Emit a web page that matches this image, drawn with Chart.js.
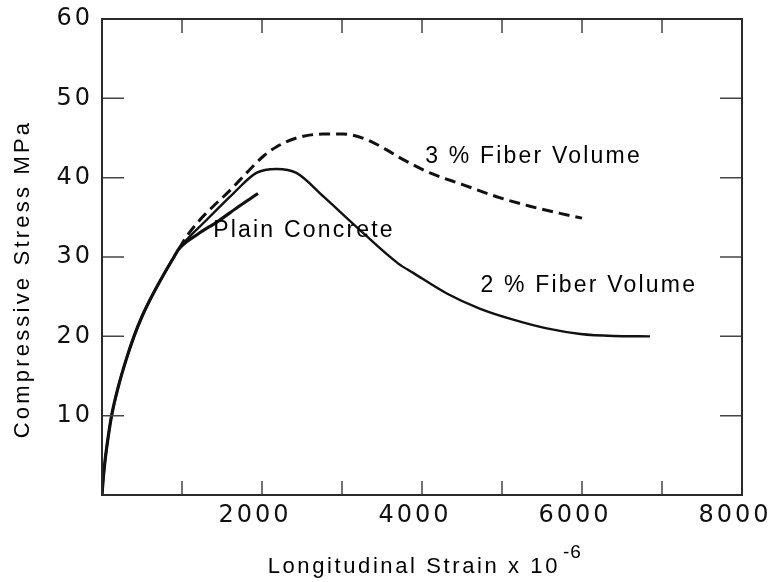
<!DOCTYPE html>
<html>
<head>
<meta charset="utf-8">
<script src="https://cdn.jsdelivr.net/npm/chart.js@4.4.1/dist/chart.umd.min.js"></script>
<style>
  html, body { margin: 0; padding: 0; background: #fff; }
  #wrap { width: 773px; height: 582px; }
</style>
</head>
<body>
<div id="wrap"><canvas id="stressChart" width="773" height="582"></canvas></div>
<script>
// shared ascending branch (all three mixes follow it up to ~31 MPa)
const baseStrain = [0, 15, 40, 80, 120, 200, 300, 400, 500, 600, 700, 800, 900, 960];
const baseStress = [0, 2, 4.5, 7.5, 10, 13.5, 17, 20, 22.5, 24.6, 26.5, 28.3, 30, 31];

const plainStrain = [960, 1200, 1450, 1700, 1950];
const plainStress = [31, 32.9, 34.5, 36.3, 38];

const fiber2Strain = [960, 1300, 1640, 1930, 2180, 2430, 2770, 3180, 3700, 3890, 4310, 4720, 5140, 5560, 5980, 6390, 6850];
const fiber2Stress = [31, 34.6, 38, 40.6, 41.1, 40.6, 37.6, 33.8, 29.2, 28.0, 25.4, 23.5, 22.1, 21.0, 20.3, 20.05, 20.0];

const fiber3Strain = [960, 1058, 1225, 1391, 1600, 1808, 2016, 2183, 2433, 2766, 3016, 3308, 3558, 3725, 4100, 4516, 4933, 5350, 5725, 6000];
const fiber3Stress = [31, 32.6, 34.7, 36.4, 38.4, 40.6, 42.7, 43.9, 45.0, 45.5, 45.5, 44.8, 43.5, 42.5, 40.6, 39.1, 37.6, 36.4, 35.5, 34.9];

const xLabeled = [2000, 4000, 6000, 8000];
const yLabeled = [10, 20, 30, 40, 50, 60];

const curveLabels = ["Plain Concrete", "3 % Fiber Volume", "2 % Fiber Volume"];
const curveLabelAt = [[1390, 32.5], [4040, 41.8], [4730, 25.6]];

function toPoints(xs, ys) {
  return xs.map((x, i) => ({ x: x, y: ys[i] }));
}

const frameAndText = {
  id: "frameAndText",
  beforeDraw(chart) {
    chart.ctx.letterSpacing = "3px";
  },
  afterDraw(chart) {
    const { ctx, chartArea: a, scales: { x, y } } = chart;
    ctx.save();
    ctx.letterSpacing = "0px";

    // inward tick marks on all four sides
    ctx.strokeStyle = "#444";
    ctx.lineWidth = 1.5;
    ctx.beginPath();
    x.ticks.forEach(t => {
      if (t.value <= x.min || t.value >= x.max) return;
      const px = x.getPixelForValue(t.value);
      ctx.moveTo(px, a.bottom); ctx.lineTo(px, a.bottom - 14);
      ctx.moveTo(px, a.top); ctx.lineTo(px, a.top + 14);
    });
    y.ticks.forEach(t => {
      if (t.value <= y.min || t.value >= y.max) return;
      const py = y.getPixelForValue(t.value);
      ctx.moveTo(a.left, py); ctx.lineTo(a.left + 22, py);
      ctx.moveTo(a.right, py); ctx.lineTo(a.right - 22, py);
    });
    ctx.stroke();

    ctx.strokeStyle = "#2a2a2a";
    ctx.lineWidth = 2;
    ctx.strokeRect(a.left, a.top, a.right - a.left, a.bottom - a.top);

    ctx.fillStyle = "#000";
    ctx.textBaseline = "alphabetic";

    // curve labels
    ctx.font = "23px 'Liberation Sans', Arial, sans-serif";
    ctx.letterSpacing = "2.2px";
    ctx.textAlign = "left";
    curveLabels.forEach((txt, i) => {
      const [sx, sy] = curveLabelAt[i];
      ctx.fillText(txt, x.getPixelForValue(sx), y.getPixelForValue(sy));
    });

    // x title with superscript
    ctx.font = "22px 'Liberation Sans', Arial, sans-serif";
    ctx.letterSpacing = "2.6px";
    ctx.textAlign = "right";
    ctx.fillText("Longitudinal Strain x 10", 560, 573);
    ctx.font = "19px 'Liberation Sans', Arial, sans-serif";
    ctx.textAlign = "left";
    ctx.letterSpacing = "1px";
    ctx.fillText("-6", 563, 558);

    // y title
    ctx.font = "22px 'Liberation Sans', Arial, sans-serif";
    ctx.letterSpacing = "3.2px";
    ctx.translate(29, 279);
    ctx.rotate(-Math.PI / 2);
    ctx.textAlign = "center";
    ctx.fillText("Compressive Stress MPa", 0, 0);
    ctx.restore();
  }
};

new Chart(document.getElementById("stressChart").getContext("2d"), {
  type: "scatter",
  data: {
    datasets: [
      {
        label: "3 % Fiber Volume",
        data: toPoints(fiber3Strain, fiber3Stress),
        showLine: true,
        borderColor: "#111",
        borderWidth: 3,
        borderDash: [11, 6],
        pointRadius: 0,
        cubicInterpolationMode: "monotone",
      },
      {
        label: "2 % Fiber Volume",
        data: toPoints(baseStrain.concat(fiber2Strain.slice(1)), baseStress.concat(fiber2Stress.slice(1))),
        showLine: true,
        borderColor: "#111",
        borderWidth: 2.4,
        pointRadius: 0,
        cubicInterpolationMode: "monotone",
      },
      {
        label: "Plain Concrete",
        data: toPoints(baseStrain.concat(plainStrain.slice(1)), baseStress.concat(plainStress.slice(1))),
        showLine: true,
        borderColor: "#111",
        borderWidth: 3.2,
        pointRadius: 0,
        cubicInterpolationMode: "monotone",
      },
    ],
  },
  options: {
    responsive: false,
    animation: false,
    events: [],
    layout: { padding: { top: 19, right: 31, bottom: 0, left: 0 } },
    plugins: {
      legend: { display: false },
      tooltip: { enabled: false },
    },
    scales: {
      x: {
        type: "linear",
        min: 0,
        max: 8000,
        grid: { display: false, drawTicks: false },
        border: { display: false },
        ticks: {
          stepSize: 1000,
          autoSkip: false,
          maxRotation: 0,
          padding: 6,
          labelOffset: -7,
          color: "#111",
          font: { family: "'DejaVu Sans', sans-serif", size: 24 },
          callback: v => (xLabeled.includes(v) ? String(v) : ""),
        },
        afterFit(scale) {
          scale.height = 87;
          scale.paddingLeft = 0;
          scale.paddingRight = 0;
        },
      },
      y: {
        type: "linear",
        min: 0,
        max: 60,
        grid: { display: false, drawTicks: false },
        border: { display: false },
        ticks: {
          stepSize: 10,
          padding: 9,
          color: "#111",
          font: { family: "'DejaVu Sans', sans-serif", size: 24 },
          callback: v => (yLabeled.includes(v) ? String(v) : ""),
        },
        afterFit(scale) {
          scale.width = 102;
          scale.paddingTop = 0;
          scale.paddingBottom = 0;
        },
      },
    },
  },
  plugins: [frameAndText],
});
</script>
</body>
</html>
